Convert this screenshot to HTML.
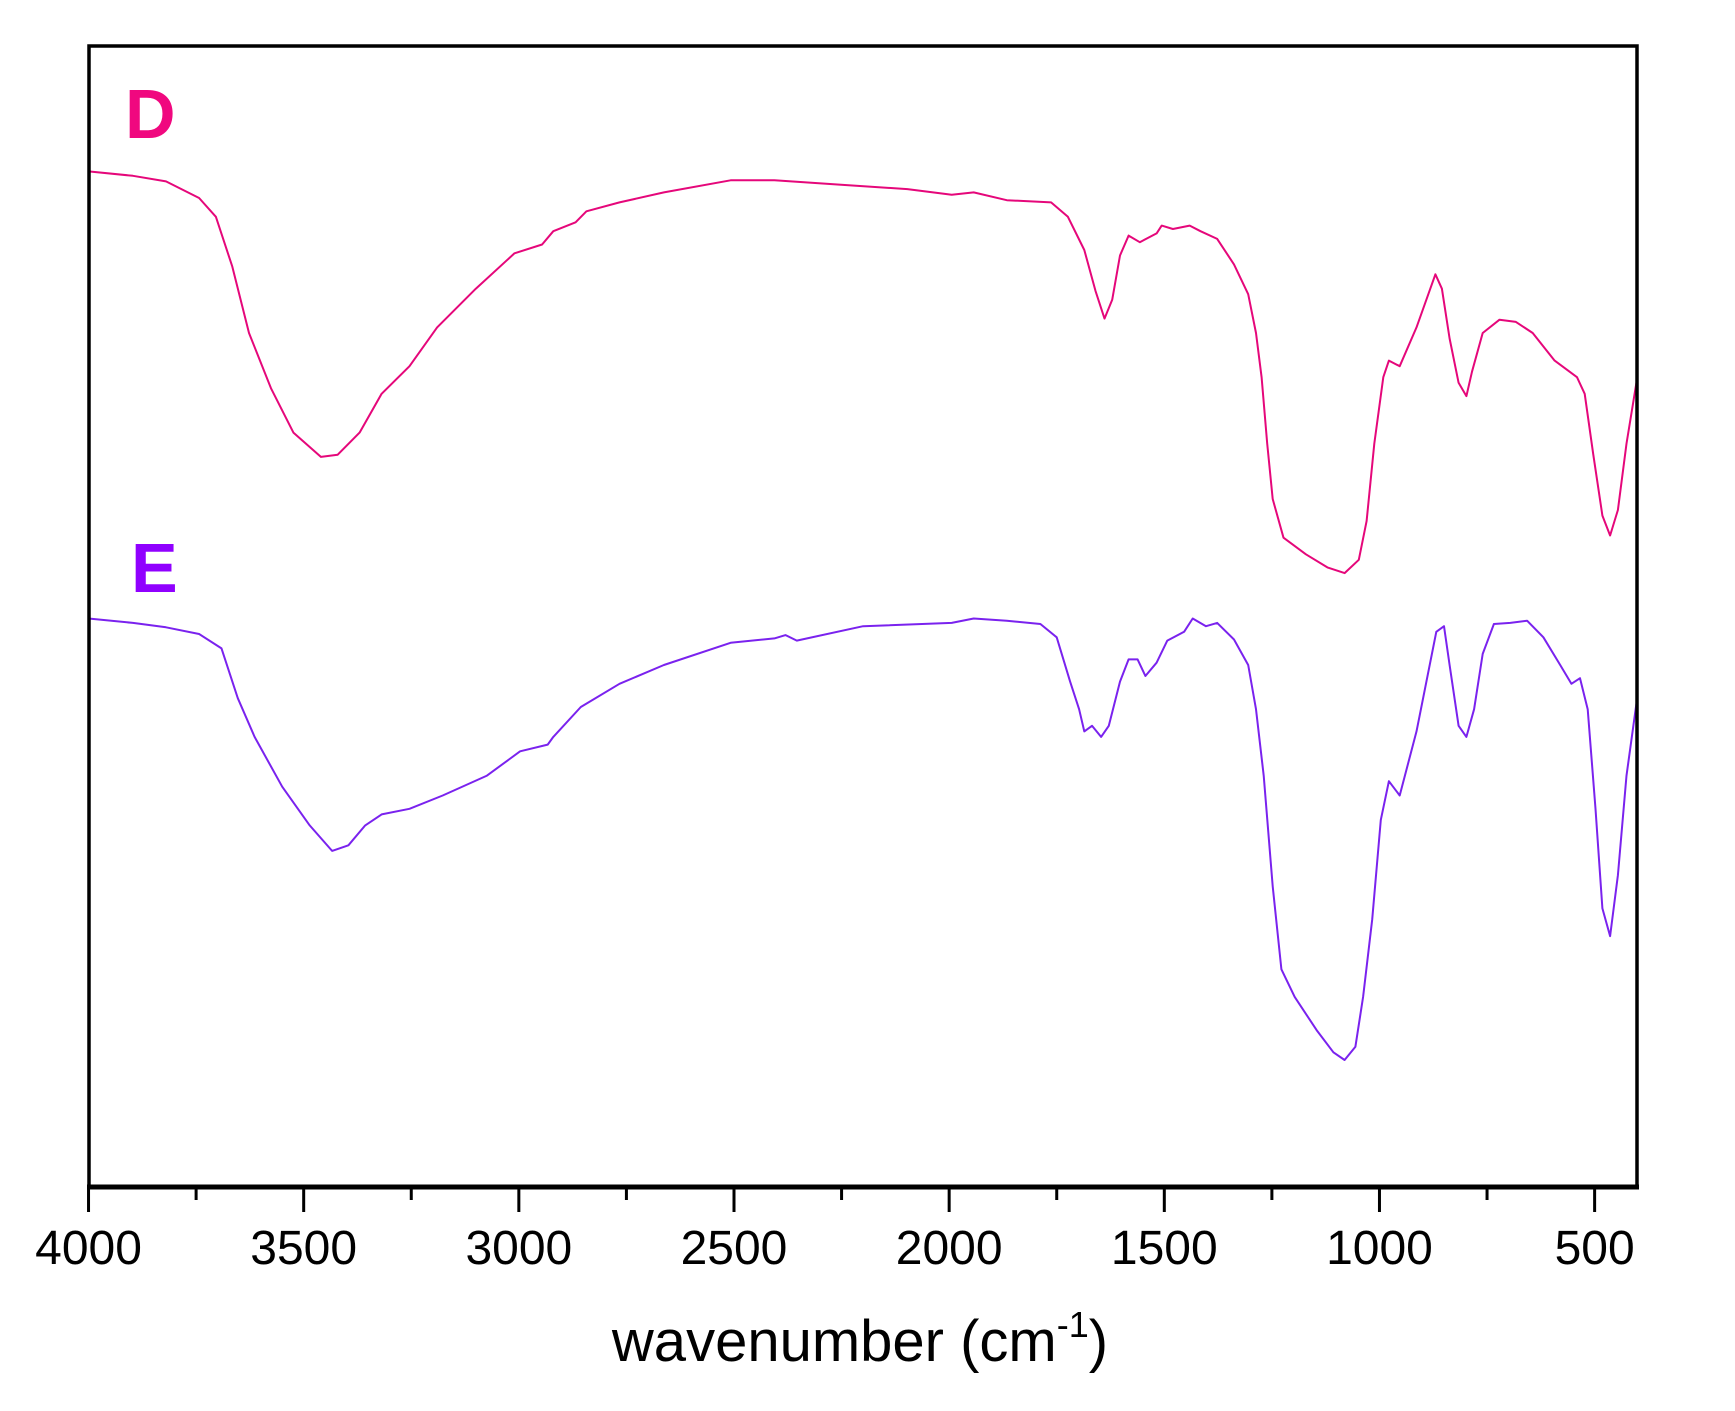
<!DOCTYPE html>
<html><head><meta charset="utf-8"><style>
html,body{margin:0;padding:0;background:#fff;}
svg{display:block;font-family:"Liberation Sans",Arial,sans-serif;}
</style></head><body>
<svg id="chart" width="1735" height="1411" viewBox="0 0 1735 1411">
<rect x="0" y="0" width="1735" height="1411" fill="#fff"/>
<g id="series"></g>
<rect x="89" y="46" width="1548" height="1141" fill="none" stroke="#000" stroke-width="3.5"/>
<line x1="87" y1="1187" x2="1639" y2="1187" stroke="#000" stroke-width="5"/>
<g id="ticks"></g>
<text x="125" y="138" font-size="70" font-weight="bold" fill="#f0087f">D</text>
<text x="131" y="592" font-size="70" font-weight="bold" fill="#9000ff">E</text>
<text x="860" y="1361" font-size="58" text-anchor="middle" fill="#000">wavenumber (cm<tspan dy="-24" font-size="36">-1</tspan><tspan dy="24">)</tspan></text>
</svg>
<script>
const xTicks = [4000,3500,3000,2500,2000,1500,1000,500];
const xMinorTicks = [3750,3250,2750,2250,1750,1250,750];
const wnD = [4000,3897,3820,3743,3704,3666,3627,3576,3524,3460,3421,3370,3319,3254,3190,3100,3010,2946,2920,2868,2843,2766,2663,2508,2406,2251,2097,1994,1943,1866,1763,1724,1686,1660,1639,1621,1603,1583,1557,1518,1506,1480,1441,1416,1377,1338,1305,1287,1274,1261,1248,1223,1171,1120,1081,1048,1030,1012,991,978,953,914,870,855,837,816,798,785,760,721,683,644,593,541,523,503,482,464,446,426,403];
const tD = [94.6,94.2,93.7,92.2,90.5,86,80,75,71,68.8,69,71,74.5,77,80.5,84,87.2,88,89.2,90,91,91.8,92.7,93.8,93.8,93.4,93,92.5,92.7,92,91.8,90.5,87.5,83.8,81.3,83,87,88.8,88.2,89,89.7,89.4,89.7,89.2,88.5,86.2,83.5,80,76,70,65,61.5,60,58.8,58.3,59.5,63,70,76,77.5,77,80.5,85.3,84,79.5,75.5,74.3,76.5,80,81.2,81,80,77.5,76,74.5,69,63.5,61.7,64,70,75.5];
const wnE = [4000,3897,3820,3743,3691,3653,3614,3550,3486,3434,3396,3357,3319,3254,3177,3074,2997,2933,2920,2856,2766,2663,2508,2406,2380,2354,2200,1994,1943,1866,1788,1750,1719,1698,1686,1668,1647,1629,1603,1583,1562,1544,1518,1493,1454,1434,1403,1377,1338,1305,1287,1269,1248,1228,1197,1146,1107,1081,1056,1038,1017,997,978,953,914,868,850,837,816,798,780,760,734,696,657,619,580,554,534,516,498,482,464,446,426,403];
const tE = [54.2,53.8,53.4,52.8,51.5,47,43.5,39,35.5,33.2,33.7,35.5,36.5,37,38.2,40,42.2,42.8,43.5,46.2,48.3,50,52,52.4,52.7,52.2,53.5,53.8,54.2,54,53.7,52.5,48.5,46,44,44.5,43.5,44.5,48.5,50.5,50.5,49,50.2,52.2,53,54.2,53.5,53.8,52.3,50,46,40,30,22.5,20,17,15,14.3,15.5,20,27,36,39.5,38.2,44,53,53.5,50,44.5,43.5,46,51,53.7,53.8,54,52.5,50,48.3,48.8,46,37,28,25.5,31,40,46.5];

const NS = 'http://www.w3.org/2000/svg';
const S = 1.1066;
function xs(w){ return 80 * S + (4000 - w) / 500 * 194.43 * S; }
function ys(t){ return (110 - t) * 10 * S + 1; }

const ticks = document.getElementById('ticks');
xTicks.forEach(function(v){
  const l = document.createElementNS(NS,'line');
  l.setAttribute('x1', xs(v)); l.setAttribute('x2', xs(v));
  l.setAttribute('y1', 1187); l.setAttribute('y2', 1212);
  l.setAttribute('stroke','#000'); l.setAttribute('stroke-width','3');
  
  
  ticks.appendChild(l);
  const t = document.createElementNS(NS,'text');
  t.setAttribute('x', xs(v)); t.setAttribute('y', 1264);
  t.setAttribute('text-anchor','middle'); t.setAttribute('font-size','48');
  t.textContent = v;
  
  
  ticks.appendChild(t);
});
xMinorTicks.forEach(function(v){
  const l = document.createElementNS(NS,'line');
  l.setAttribute('x1', xs(v)); l.setAttribute('x2', xs(v));
  l.setAttribute('y1', 1187); l.setAttribute('y2', 1200);
  l.setAttribute('stroke','#000'); l.setAttribute('stroke-width','3');
  
  
  ticks.appendChild(l);
});

const series = document.getElementById('series');
function draw(wn, t, color, name){
  let d = '';
  for (let i = 0; i < wn.length; i++) d += (i ? 'L' : 'M') + xs(wn[i]).toFixed(1) + ',' + ys(t[i]).toFixed(1);
  const p = document.createElementNS(NS,'path');
  p.setAttribute('d', d); p.setAttribute('fill','none');
  p.setAttribute('stroke', color); p.setAttribute('stroke-width','2');
  p.setAttribute('stroke-linejoin','round');
  
  
  series.appendChild(p);
}
draw(wnD, tD, '#e5077a', 'spectrum-d');
draw(wnE, tE, '#7a22ee', 'spectrum-e');
</script>
</body></html>
